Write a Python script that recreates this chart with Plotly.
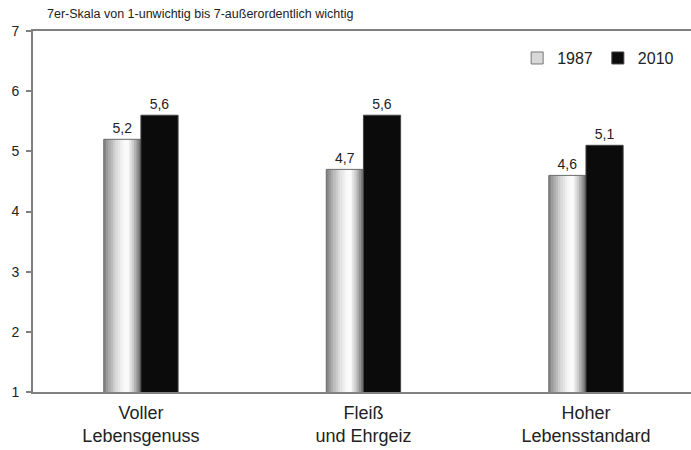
import plotly.graph_objects as go

categories = ["Voller<br>Lebensgenuss", "Fleiß<br>und Ehrgeiz", "Hoher<br>Lebensstandard"]
values_1987 = [5.2, 4.7, 4.6]
values_2010 = [5.6, 5.6, 5.1]
series_names = ["1987", "2010"]
y_ticks = [1, 2, 3, 4, 5, 6, 7]
title_text = "7er-Skala von 1-unwichtig bis 7-außerordentlich wichtig"

FONT = "Liberation Sans, Arial, Helvetica, sans-serif"
BW = 0.167  # bar width in category units

# cylinder-like grey gradient for the 1987 bars (style only)
stops = [(0.0, 125), (0.15, 170), (0.35, 220), (0.55, 250), (0.65, 252), (0.8, 200), (0.92, 140), (1.0, 100)]

def grey_at(t):
    for (t0, g0), (t1, g1) in zip(stops[:-1], stops[1:]):
        if t0 <= t <= t1:
            g = g0 + (g1 - g0) * (t - t0) / (t1 - t0)
            g = int(round(g))
            return f"rgb({g},{g},{g})"
    return "rgb(120,120,120)"

N = 16
fig = go.Figure()
xs = list(range(len(categories)))
for i in range(N):
    t = (i + 0.5) / N
    fig.add_trace(go.Bar(
        x=xs, y=values_1987, width=BW / N + 0.002, offset=-BW + i * BW / N,
        marker=dict(color=grey_at(t), line=dict(width=0)),
        showlegend=False, hoverinfo="skip",
    ))
# outline + value labels for 1987
fig.add_trace(go.Bar(
    x=xs, y=values_1987, width=BW, offset=-BW, name=series_names[0],
    marker=dict(color="rgba(0,0,0,0)", line=dict(color="#6a6a6a", width=1)),
    text=values_1987, texttemplate="%{y:.1f}", textposition="outside",
    textfont=dict(size=14, color="#222", family=FONT), cliponaxis=False,
    showlegend=False,
))
# legend entry for 1987
fig.add_trace(go.Bar(
    x=[None], y=[None], name=series_names[0],
    marker=dict(color="#d8d8d8", line=dict(color="#777", width=1)),
))
fig.add_trace(go.Bar(
    x=xs, y=values_2010, width=BW, offset=0.0, name=series_names[1],
    marker=dict(color="#0b0b0b", line=dict(color="#444", width=1)),
    text=values_2010, texttemplate="%{y:.1f}", textposition="outside",
    textfont=dict(size=14, color="#222", family=FONT), cliponaxis=False,
))

fig.update_layout(
    width=691, height=450,
    margin=dict(l=33, r=0, t=31, b=58, autoexpand=False),
    barmode="overlay",
    separators=",.",
    plot_bgcolor="white", paper_bgcolor="white",
    font=dict(family=FONT, color="#222"),
    title=dict(text=title_text, xref="container", x=47 / 691, xanchor="left",
               yref="container", y=1 - 14 / 450, yanchor="middle",
               font=dict(size=12.5, color="#222", family=FONT)),
    legend=dict(orientation="h", x=0.982, xanchor="right", y=0.925, yanchor="middle",
                font=dict(size=16, color="#222", family=FONT), itemwidth=30,
                bgcolor="rgba(0,0,0,0)", traceorder="normal"),
    xaxis=dict(range=[-0.485, 2.472], tickmode="array", tickvals=xs, ticktext=categories,
               showline=True, mirror=True, linecolor="#808080", linewidth=2,
               showgrid=False, ticks="", tickfont=dict(size=18, color="#222", family=FONT),
               ticklabelstandoff=3,
               zeroline=False, automargin=False),
    yaxis=dict(range=[1, 7], tickvals=y_ticks, showline=True, linecolor="#808080", linewidth=2,
               ticks="outside", ticklen=5, tickcolor="#808080", tickwidth=1.5,
               ticklabelstandoff=4, automargin=False,
               showgrid=False, zeroline=False, tickfont=dict(size=14, color="#222", family=FONT)),
)

fig.write_html("out.html", config={"displayModeBar": False},
               post_script="document.body.style.margin='0';document.body.style.padding='0';")
